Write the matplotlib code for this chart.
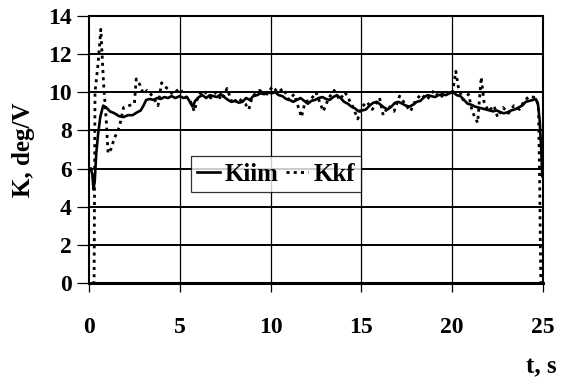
import matplotlib
matplotlib.use("Agg")
import matplotlib.pyplot as plt

# ---- data ----
t_kiim = [0.10, 0.18, 0.25, 0.32, 0.40, 0.50, 0.62, 0.78, 0.95, 1.15, 1.40, 1.65, 1.90, 2.15, 2.40,
          2.65, 2.85, 3.00, 3.15, 3.35, 3.55, 3.75, 3.95, 4.15, 4.35, 4.55, 4.75, 5.00, 5.20, 5.40,
          5.55, 5.70, 5.85, 6.05, 6.25, 6.45, 6.65, 6.85, 7.05, 7.25, 7.45, 7.65, 7.85, 8.05, 8.25,
          8.45, 8.65, 8.85, 9.05, 9.25, 9.45, 9.65, 9.85, 10.05, 10.25, 10.45, 10.65, 10.85, 11.05,
          11.25, 11.45, 11.65, 11.85, 12.05, 12.25, 12.45, 12.65, 12.85, 13.05, 13.25, 13.45, 13.65,
          13.85, 14.05, 14.25, 14.45, 14.65, 14.85, 15.05, 15.25, 15.45, 15.65, 15.85, 16.05, 16.25,
          16.45, 16.65, 16.85, 17.05, 17.25, 17.45, 17.65, 17.85, 18.05, 18.25, 18.45, 18.65, 18.85,
          19.05, 19.25, 19.45, 19.65, 19.85, 20.05, 20.25, 20.45, 20.65, 20.85, 21.05, 21.25, 21.45,
          21.65, 21.85, 22.05, 22.25, 22.45, 22.65, 22.85, 23.05, 23.25, 23.45, 23.65, 23.85, 24.05,
          24.25, 24.45, 24.60, 24.72, 24.82, 24.90, 24.96]
k_iim = [6.0, 5.7, 4.9, 5.4, 6.8, 7.8, 8.7, 9.3, 9.2, 9.0, 8.9, 8.75, 8.7, 8.8, 8.8,
         8.95, 9.05, 9.3, 9.6, 9.65, 9.6, 9.7, 9.65, 9.75, 9.7, 9.8, 9.7, 9.8, 9.7, 9.75,
         9.5, 9.25, 9.55, 9.75, 9.85, 9.7, 9.85, 9.8, 9.75, 9.9, 9.75, 9.6, 9.5, 9.55, 9.45,
         9.5, 9.7, 9.6, 9.8, 9.85, 9.95, 9.9, 10.0, 9.95, 10.0, 9.85, 9.8, 9.65, 9.6,
         9.5, 9.6, 9.7, 9.55, 9.4, 9.55, 9.6, 9.7, 9.75, 9.65, 9.6, 9.75, 9.85,
         9.7, 9.5, 9.4, 9.25, 9.15, 9.0, 9.05, 9.1, 9.3, 9.45, 9.5, 9.35, 9.2,
         9.1, 9.25, 9.45, 9.5, 9.4, 9.3, 9.25, 9.35, 9.5, 9.55, 9.75, 9.85, 9.8,
         9.75, 9.85, 9.9, 9.85, 9.95, 10.0, 9.85, 9.8, 9.6, 9.4, 9.35, 9.25, 9.2,
         9.15, 9.1, 9.05, 9.0, 9.05, 8.95, 8.9, 8.95, 9.05, 9.1, 9.2, 9.3, 9.5,
         9.55, 9.6, 9.65, 9.4, 8.5, 7.0, 5.6]

t_kkf = [0.20, 0.28, 0.33, 0.50, 0.65, 0.80, 0.95, 1.05, 1.20, 1.40, 1.60, 1.75, 1.90, 2.20, 2.50,
         2.60, 2.80, 3.00, 3.20, 3.50, 3.80, 4.00, 4.20, 4.60, 5.00, 5.30, 5.60, 5.80, 6.00, 6.30,
         6.70, 7.00, 7.30, 7.60, 7.90, 8.20, 8.60, 8.80, 9.00, 9.40, 9.80, 10.10, 10.40, 10.70,
         11.00, 11.30, 11.70, 11.90, 12.20, 12.50, 12.90, 13.20, 13.50, 13.80, 14.10, 14.50, 14.80,
         15.00, 15.30, 15.60, 16.00, 16.20, 16.50, 16.80, 17.10, 17.40, 17.70, 18.00, 18.30, 18.60,
         19.00, 19.30, 19.70, 20.00, 20.20, 20.35, 20.60, 20.90, 21.10, 21.40, 21.60, 21.75, 22.00,
         22.30, 22.50, 22.80, 23.10, 23.40, 23.70, 24.00, 24.30, 24.60, 24.75, 24.82, 24.88]
k_kf = [0.0, 0.0, 10.0, 11.5, 13.3, 10.5, 8.5, 6.8, 7.0, 7.6, 8.0, 8.5, 9.2, 9.3, 9.4,
        10.7, 10.4, 9.9, 10.1, 9.8, 9.3, 10.5, 10.3, 9.9, 10.2, 9.8, 9.5, 9.0, 9.8, 10.1,
        9.7, 10.0, 9.6, 10.2, 9.4, 9.7, 9.4, 9.1, 9.8, 10.1, 9.9, 10.3, 10.0, 10.2,
        9.6, 9.9, 8.7, 9.5, 9.6, 10.0, 9.0, 9.7, 10.1, 9.6, 10.0, 9.3, 8.6,
        9.2, 9.5, 9.1, 9.7, 8.8, 9.3, 9.0, 9.8, 9.4, 9.0, 9.6, 9.9, 9.6,
        10.1, 9.7, 10.0, 9.9, 11.1, 10.2, 9.6, 9.9, 9.0, 8.4, 10.8, 9.5, 9.0,
        9.3, 8.7, 9.2, 8.9, 9.3, 9.1, 9.6, 9.8, 9.7, 9.3, 5.0, 0.0]

x_ticks = [0, 5, 10, 15, 20, 25]
y_ticks = [0, 2, 4, 6, 8, 10, 12, 14]

# ---- figure ----
serif = ["Liberation Serif", "DejaVu Serif"]
plt.rcParams["font.family"] = serif
plt.rcParams["font.weight"] = "bold"

fig = plt.figure(figsize=(5.63, 3.82), dpi=100)
ax = fig.add_axes([89 / 563, 1 - 283 / 382, (543 - 89) / 563, (283 - 16) / 382])

ax.set_xlim(0, 25)
ax.set_ylim(0, 14)
ax.set_xticks(x_ticks)
ax.set_yticks(y_ticks)

for y in y_ticks[1:-1]:
    ax.axhline(y, color="black", lw=1.4, zorder=1)
for x in x_ticks[1:-1]:
    ax.axvline(x, color="black", lw=0.9, zorder=1)

ax.plot(t_kiim, k_iim, color="black", lw=1.9, solid_joinstyle="round", zorder=3, label="Kiim")
ax.plot(t_kkf, k_kf, color="black", lw=2.0, linestyle=(0, (1.1, 1.5)), zorder=3, label="Kkf")

for s in ["top", "right", "left"]:
    ax.spines[s].set_linewidth(1.5)
ax.spines["bottom"].set_linewidth(2.2)

ax.tick_params(axis="y", direction="out", length=8.5, width=0.9, pad=4, labelsize=17)
ax.tick_params(axis="x", direction="out", length=6.5, width=0.9, pad=18, labelsize=17)
for lbl in ax.get_xticklabels() + ax.get_yticklabels():
    lbl.set_fontweight("bold")

ax.set_ylabel("K, deg/V", fontsize=18, fontweight="bold", labelpad=9)
fig.text(557 / 563, 1 - 367 / 382, "t, s", fontsize=18, fontweight="bold",
         ha="right", va="center")

leg = ax.legend(loc="center", bbox_to_anchor=(0.412, 0.408), ncol=2, frameon=True,
                fancybox=False, shadow=False, handlelength=0.9,
                handletextpad=0.2, columnspacing=0.3, borderpad=0.25,
                prop={"family": serif, "weight": "bold", "size": 18})
leg.get_frame().set_edgecolor("black")
leg.get_frame().set_linewidth(0.9)
leg.set_zorder(5)

fig.savefig("out.png", dpi=100, facecolor="white")
